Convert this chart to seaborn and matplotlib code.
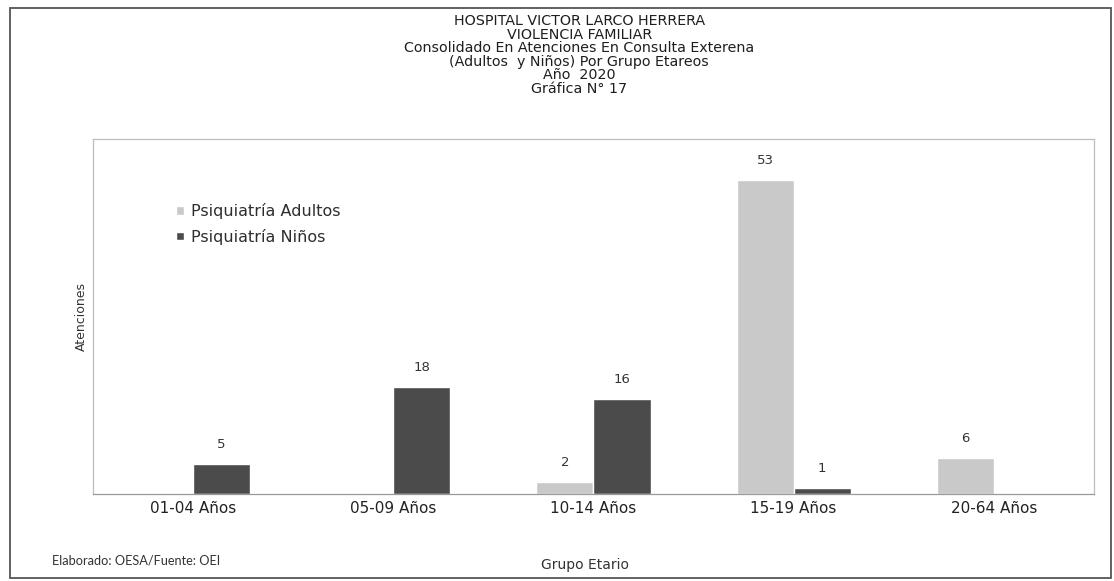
import pandas as pd
import numpy as np
import matplotlib.pyplot as plt
import seaborn as sns
from matplotlib.patches import Rectangle

# data
grupos = ['01-04 Años', '05-09 Años', '10-14 Años', '15-19 Años', '20-64 Años']
adultos = [0, 0, 2, 53, 6]
ninos = [5, 18, 16, 1, 0]
series = ['Psiquiatría Adultos', 'Psiquiatría Niños']
colores = ['#c9c9c9', '#4b4b4b']

titulo = ['HOSPITAL VICTOR LARCO HERRERA',
          'VIOLENCIA FAMILIAR',
          'Consolidado En Atenciones En Consulta Exterena',
          '(Adultos  y Niños) Por Grupo Etareos',
          'Año  2020',
          'Gráfica N° 17']

df = pd.DataFrame({
    'grupo': grupos * 2,
    'serie': [series[0]] * len(grupos) + [series[1]] * len(grupos),
    'valor': adultos + ninos,
})

sns.set_style('white')
plt.rcParams['font.family'] = ['DejaVu Sans']

fig = plt.figure(figsize=(11.14, 5.81), dpi=100)
ax = fig.add_axes([0.0835, 0.150, 0.8985, 0.611])

sns.barplot(data=df, x='grupo', y='valor', hue='serie', palette=colores,
            width=0.57, gap=0, saturation=1, ax=ax, legend=True)

for cont in ax.containers:
    for bar in cont:
        h = bar.get_height()
        if h > 0:
            ax.annotate(f'{int(h)}', (bar.get_x() + bar.get_width() / 2, h),
                        xytext=(0, 14), textcoords='offset points',
                        ha='center', va='center', fontsize=9.5, color='#333333')

ax.set_xlim(-0.5, 4.5)
ax.set_ylim(0, 60)
ax.set_yticks([])
ax.tick_params(axis='x', length=0, labelsize=11, colors='#222222', pad=5)
for s in ax.spines.values():
    s.set_color('#bdbdbd')
    s.set_linewidth(0.9)
ax.spines['bottom'].set_color('#9a9a9a')

ax.set_xlabel('')
ax.set_ylabel('Atenciones', fontsize=9, color='#333333', labelpad=4)

leg = ax.legend(loc='upper left', bbox_to_anchor=(0.069, 0.86), frameon=False,
                fontsize=11.5, handlelength=0.45, handleheight=0.45,
                handletextpad=0.45, labelspacing=0.62)
for t in leg.get_texts():
    t.set_color('#2e2e2e')

y0 = 1 - 21 / 581
for i, linea in enumerate(titulo):
    fig.text(0.52, y0 - i * 0.0234, linea, ha='center', va='center',
             fontsize=10.3, color='#1e1e1e')

fig.text(0.525, 0.027, 'Grupo Etario', ha='center', va='center',
         fontsize=10, color='#333333')
fig.text(0.047, 0.035, 'Elaborado: OESA/Fuente: OEI', ha='left', va='center',
         fontsize=9.2, color='#333333', family=['Lato', 'DejaVu Sans'])

fig.patches.append(Rectangle((0.009, 0.006), 0.988, 0.98, transform=fig.transFigure,
                             fill=False, edgecolor='#555555', linewidth=1.3))

fig.savefig('out.png', dpi=100)
